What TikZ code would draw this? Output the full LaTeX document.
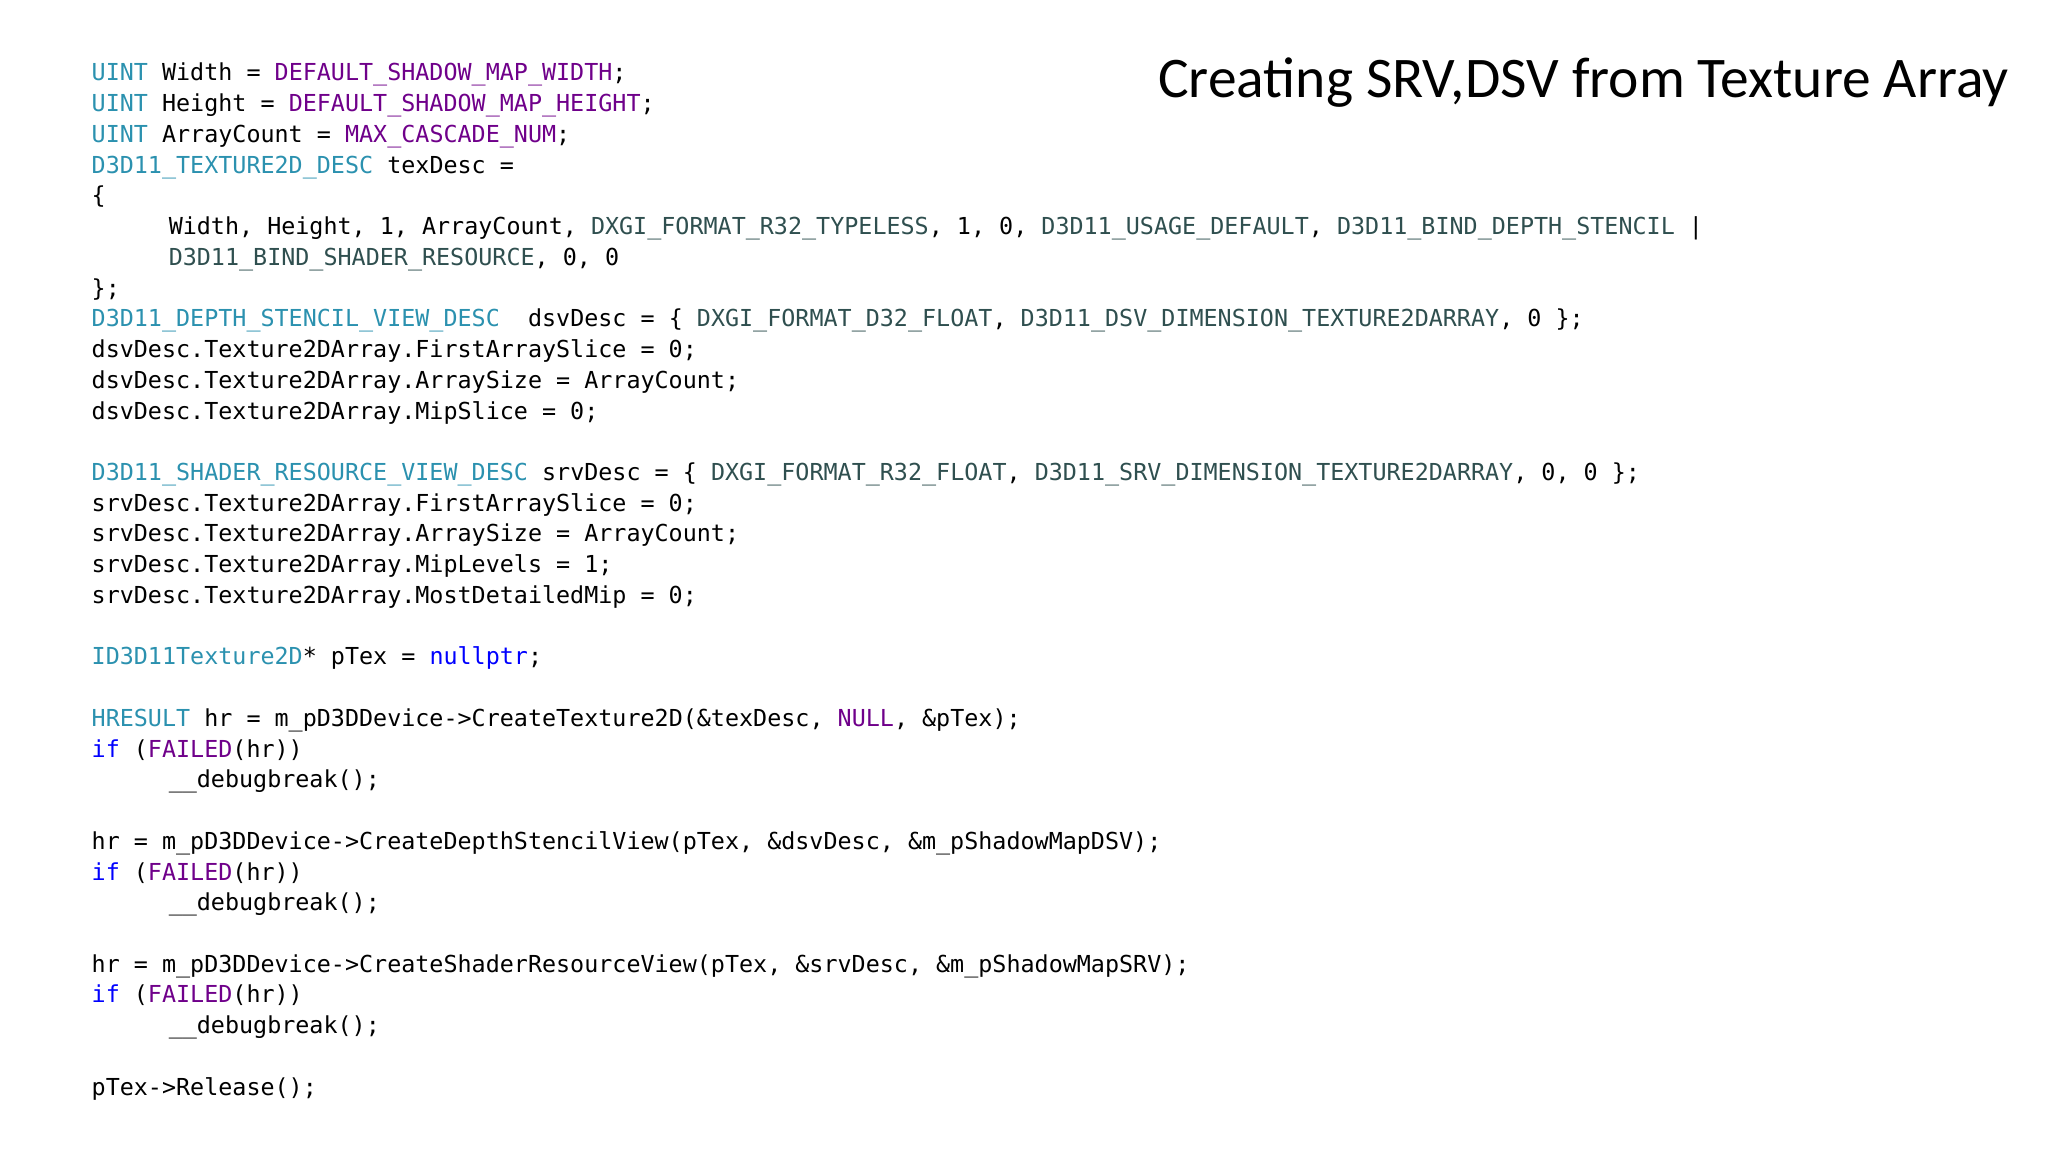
\documentclass[tikz,border=0pt]{standalone}
\usepackage{fontspec}
\setmainfont{Carlito}
\setmonofont{DejaVu Sans Mono}
\definecolor{ty}{HTML}{2B91AF}
\definecolor{mc}{HTML}{6F008A}
\definecolor{en}{HTML}{2F4F4F}
\definecolor{kw}{HTML}{0000FF}
\newcommand{\T}[1]{\textcolor{ty}{#1}}
\newcommand{\M}[1]{\textcolor{mc}{#1}}
\newcommand{\E}[1]{\textcolor{en}{#1}}
\newcommand{\K}[1]{\textcolor{kw}{#1}}
\tikzset{codeline/.style={anchor=base west,inner sep=0pt,font=\ttfamily\fontsize{17.9}{20}\selectfont}}
\newcommand{\CL}[4]{\node[codeline] (#1) at (#3,{882-(62+23.53*#2)}) {#4};}
\begin{document}
\begin{tikzpicture}[x=1pt,y=1pt]
\useasboundingbox (0,0) rectangle (1568,882);
\node[anchor=base east,inner sep=0pt,font=\fontsize{44}{50}\selectfont\addfontfeature{}] (title) at (1538,882-75) {Creating SRV,DSV from Texture Array};
\CL{l0}{0}{70}{\T{UINT} Width = \M{DEFAULT\_SHADOW\_MAP\_WIDTH};}
\CL{l1}{1}{70}{\T{UINT} Height = \M{DEFAULT\_SHADOW\_MAP\_HEIGHT};}
\CL{l2}{2}{70}{\T{UINT} ArrayCount = \M{MAX\_CASCADE\_NUM};}
\CL{l3}{3}{70}{\T{D3D11\_TEXTURE2D\_DESC} texDesc =}
\CL{l4}{4}{70}{\{}
\CL{l5}{5}{129}{Width, Height, 1, ArrayCount, \E{DXGI\_FORMAT\_R32\_TYPELESS}, 1, 0, \E{D3D11\_USAGE\_DEFAULT}, \E{D3D11\_BIND\_DEPTH\_STENCIL} |}
\CL{l6}{6}{129}{\E{D3D11\_BIND\_SHADER\_RESOURCE}, 0, 0}
\CL{l7}{7}{70}{\};}
\CL{l8}{8}{70}{\T{D3D11\_DEPTH\_STENCIL\_VIEW\_DESC}\ \ dsvDesc = \{ \E{DXGI\_FORMAT\_D32\_FLOAT}, \E{D3D11\_DSV\_DIMENSION\_TEXTURE2DARRAY}, 0 \};}
\CL{l9}{9}{70}{dsvDesc.Texture2DArray.FirstArraySlice = 0;}
\CL{l10}{10}{70}{dsvDesc.Texture2DArray.ArraySize = ArrayCount;}
\CL{l11}{11}{70}{dsvDesc.Texture2DArray.MipSlice = 0;}
\CL{l13}{13}{70}{\T{D3D11\_SHADER\_RESOURCE\_VIEW\_DESC} srvDesc = \{ \E{DXGI\_FORMAT\_R32\_FLOAT}, \E{D3D11\_SRV\_DIMENSION\_TEXTURE2DARRAY}, 0, 0 \};}
\CL{l14}{14}{70}{srvDesc.Texture2DArray.FirstArraySlice = 0;}
\CL{l15}{15}{70}{srvDesc.Texture2DArray.ArraySize = ArrayCount;}
\CL{l16}{16}{70}{srvDesc.Texture2DArray.MipLevels = 1;}
\CL{l17}{17}{70}{srvDesc.Texture2DArray.MostDetailedMip = 0;}
\CL{l19}{19}{70}{\T{ID3D11Texture2D}* pTex = \K{nullptr};}
\CL{l21}{21}{70}{\T{HRESULT} hr = m\_pD3DDevice->CreateTexture2D(\&texDesc, \M{NULL}, \&pTex);}
\CL{l22}{22}{70}{\K{if} (\M{FAILED}(hr))}
\CL{l23}{23}{129}{\_\_debugbreak();}
\CL{l25}{25}{70}{hr = m\_pD3DDevice->CreateDepthStencilView(pTex, \&dsvDesc, \&m\_pShadowMapDSV);}
\CL{l26}{26}{70}{\K{if} (\M{FAILED}(hr))}
\CL{l27}{27}{129}{\_\_debugbreak();}
\CL{l29}{29}{70}{hr = m\_pD3DDevice->CreateShaderResourceView(pTex, \&srvDesc, \&m\_pShadowMapSRV);}
\CL{l30}{30}{70}{\K{if} (\M{FAILED}(hr))}
\CL{l31}{31}{129}{\_\_debugbreak();}
\CL{l33}{33}{70}{pTex->Release();}
\end{tikzpicture}
\end{document}
